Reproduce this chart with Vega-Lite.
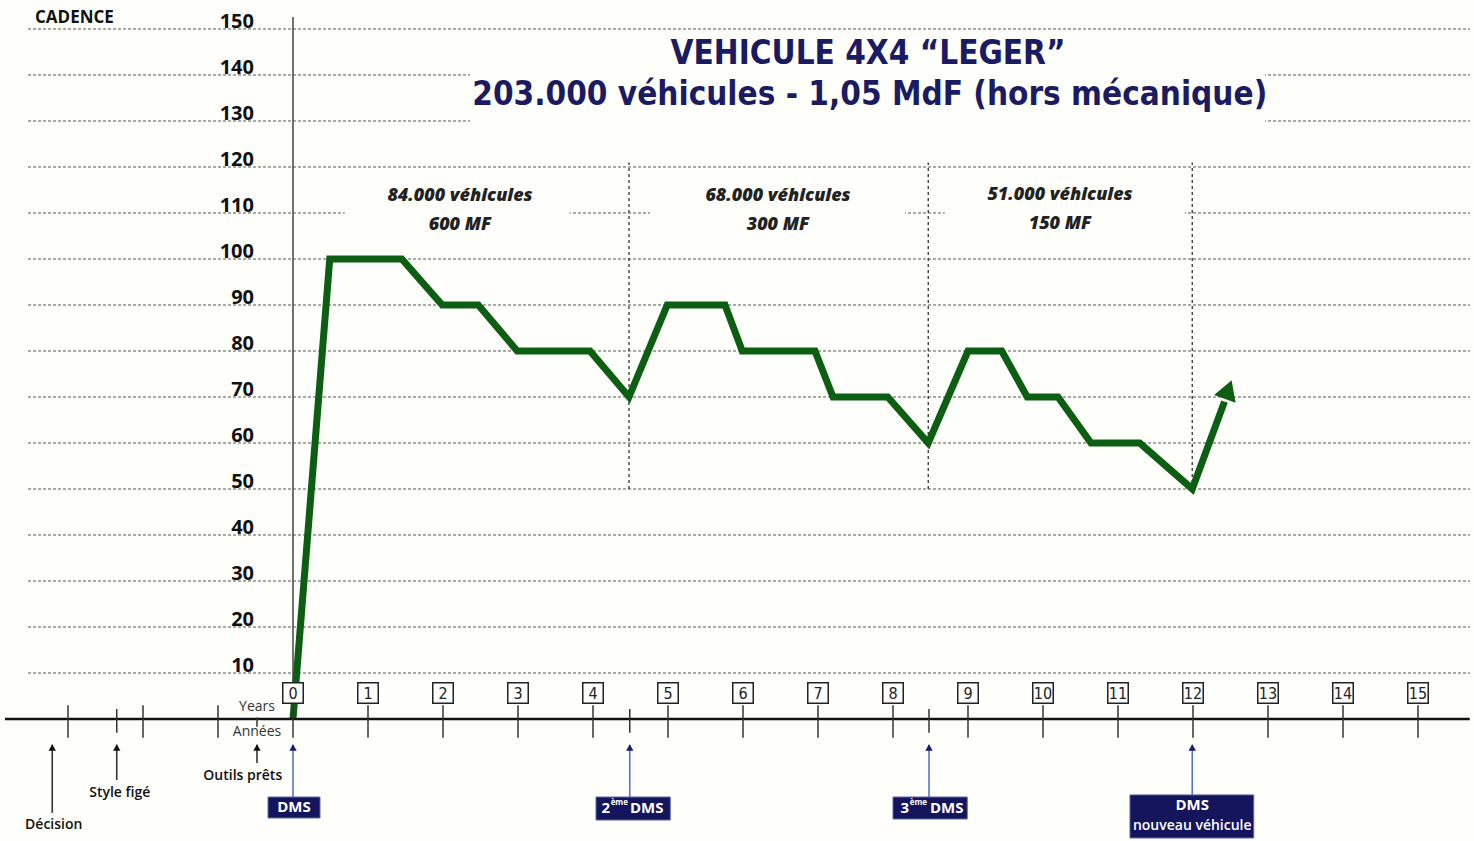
{
  "$schema": "https://vega.github.io/schema/vega-lite/v6.json",
  "autosize": "none",
  "padding": 0,
  "width": 1474,
  "height": 841,
  "background": "#fefefb",
  "config": {"view": {"stroke": null}},
  "layer": [
    {
      "data": {"values": [
        {"v": 10, "xa": -3.533, "xb": 15.693}, {"v": 20, "xa": -3.533, "xb": 15.693}, {"v": 30, "xa": -3.533, "xb": 15.693},
        {"v": 40, "xa": -3.533, "xb": 15.693}, {"v": 50, "xa": -3.533, "xb": 15.693}, {"v": 60, "xa": -3.533, "xb": 15.693},
        {"v": 70, "xa": -3.533, "xb": 15.693}, {"v": 80, "xa": -3.533, "xb": 15.693}, {"v": 90, "xa": -3.533, "xb": 15.693},
        {"v": 100, "xa": -3.533, "xb": 15.693}, {"v": 110, "xa": -3.533, "xb": 15.693}, {"v": 120, "xa": -3.533, "xb": 15.693},
        {"v": 130, "xa": -3.533, "xb": 15.693}, {"v": 140, "xa": -3.533, "xb": 15.693}, {"v": 150, "xa": -3.533, "xb": 15.693}
      ]},
      "mark": {"type": "rule", "color": "#555", "strokeWidth": 1, "strokeDash": [3, 2]},
      "encoding": {
        "x": {"field": "xa", "type": "quantitative", "scale": {"domain": [-3.9067, 15.7467], "nice": false, "zero": false}, "axis": null},
        "x2": {"field": "xb"},
        "y": {"field": "v", "type": "quantitative", "scale": {"domain": [-26.52, 156.3], "nice": false, "zero": false}, "axis": null}
      }
    },
    {
      "data": {"values": [
        {"x1": 2.36, "x2": 12.96, "y1": 125, "y2": 146},
        {"x1": 0.69, "x2": 3.69, "y1": 105, "y2": 116},
        {"x1": 4.76, "x2": 8.16, "y1": 105, "y2": 116},
        {"x1": 8.69, "x2": 11.89, "y1": 105, "y2": 116}
      ]},
      "mark": {"type": "rect", "color": "#fefefb"},
      "encoding": {
        "x": {"field": "x1", "type": "quantitative", "axis": null},
        "x2": {"field": "x2"},
        "y": {"field": "y1", "type": "quantitative", "axis": null},
        "y2": {"field": "y2"}
      }
    },
    {
      "data": {"values": [{"x": 4.48, "ya": 50, "yb": 121}, {"x": 8.47, "ya": 50, "yb": 121}, {"x": 11.99, "ya": 50, "yb": 121}]},
      "mark": {"type": "rule", "color": "#333", "strokeWidth": 1.3, "strokeDash": [3, 3]},
      "encoding": {
        "x": {"field": "x", "type": "quantitative", "axis": null},
        "y": {"field": "ya", "type": "quantitative", "axis": null},
        "y2": {"field": "yb"}
      }
    },
    {
      "data": {"values": [{"x": 0, "ya": 0, "yb": 152.6}]},
      "mark": {"type": "rule", "color": "#444", "strokeWidth": 1.5},
      "encoding": {
        "x": {"field": "x", "type": "quantitative", "axis": null},
        "y": {"field": "ya", "type": "quantitative", "axis": null},
        "y2": {"field": "yb"}
      }
    },
    {
      "data": {"values": [
        {"v": 10, "x": -0.52}, {"v": 20, "x": -0.52}, {"v": 30, "x": -0.52}, {"v": 40, "x": -0.52}, {"v": 50, "x": -0.52},
        {"v": 60, "x": -0.52}, {"v": 70, "x": -0.52}, {"v": 80, "x": -0.52}, {"v": 90, "x": -0.52}, {"v": 100, "x": -0.52},
        {"v": 110, "x": -0.52}, {"v": 120, "x": -0.52}, {"v": 130, "x": -0.52}, {"v": 140, "x": -0.52}, {"v": 150, "x": -0.52}
      ]},
      "mark": {"type": "text", "align": "right", "baseline": "alphabetic", "dy": -1, "font": "Open Sans", "fontWeight": "bold", "fontSize": 20, "color": "#111"},
      "encoding": {
        "x": {"field": "x", "type": "quantitative", "axis": null},
        "y": {"field": "v", "type": "quantitative", "axis": null},
        "text": {"field": "v", "type": "quantitative"}
      }
    },
    {
      "data": {"values": [{"t": "CADENCE", "x": -3.44, "y": 152.4}]},
      "mark": {"type": "text", "align": "left", "baseline": "middle", "font": "Open Sans", "fontWeight": "bold", "fontSize": 17, "color": "#111"},
      "encoding": {
        "x": {"field": "x", "type": "quantitative", "axis": null},
        "y": {"field": "y", "type": "quantitative", "axis": null},
        "text": {"field": "t", "type": "nominal"}
      }
    },
    {
      "data": {"values": [
        {"t": "VEHICULE 4X4 \u201cLEGER\u201d", "x": 7.667, "y": 144.6},
        {"t": "203.000 véhicules - 1,05 MdF (hors mécanique)", "x": 7.69, "y": 135.65}
      ]},
      "mark": {"type": "text", "align": "center", "baseline": "middle", "font": "Liberation Sans Narrow, DejaVu Sans Condensed, Roboto", "fontWeight": "bold", "fontSize": 33, "color": "#1b1b63"},
      "encoding": {
        "x": {"field": "x", "type": "quantitative", "axis": null},
        "y": {"field": "y", "type": "quantitative", "axis": null},
        "text": {"field": "t", "type": "nominal"}
      }
    },
    {
      "data": {"values": [
        {"t": "84.000 véhicules", "x": 2.227, "y": 113.7},
        {"t": "600 MF", "x": 2.227, "y": 107.4},
        {"t": "68.000 véhicules", "x": 6.467, "y": 113.7},
        {"t": "300 MF", "x": 6.467, "y": 107.4},
        {"t": "51.000 véhicules", "x": 10.227, "y": 113.9},
        {"t": "150 MF", "x": 10.227, "y": 107.6}
      ]},
      "mark": {"type": "text", "align": "center", "baseline": "middle", "font": "Open Sans", "fontWeight": 800, "fontStyle": "italic", "fontSize": 18, "color": "#222"},
      "encoding": {
        "x": {"field": "x", "type": "quantitative", "axis": null},
        "y": {"field": "y", "type": "quantitative", "axis": null},
        "text": {"field": "t", "type": "nominal"}
      }
    },
    {
      "data": {"values": [
        {"x": 0, "v": 0}, {"x": 0.49, "v": 100}, {"x": 1.45, "v": 100}, {"x": 1.99, "v": 90},
        {"x": 2.47, "v": 90}, {"x": 2.99, "v": 80}, {"x": 3.96, "v": 80}, {"x": 4.48, "v": 70},
        {"x": 4.99, "v": 90}, {"x": 5.76, "v": 90}, {"x": 5.99, "v": 80}, {"x": 6.96, "v": 80},
        {"x": 7.2, "v": 70}, {"x": 7.93, "v": 70}, {"x": 8.47, "v": 60}, {"x": 9.0, "v": 80},
        {"x": 9.45, "v": 80}, {"x": 9.79, "v": 70}, {"x": 10.2, "v": 70}, {"x": 10.64, "v": 60},
        {"x": 11.29, "v": 60}, {"x": 11.99, "v": 50}, {"x": 12.42, "v": 69}
      ]},
      "mark": {"type": "line", "color": "#0c5e12", "strokeWidth": 7, "strokeJoin": "miter", "strokeCap": "butt"},
      "encoding": {
        "x": {"field": "x", "type": "quantitative", "axis": null},
        "y": {"field": "v", "type": "quantitative", "axis": null}
      }
    },
    {
      "data": {"values": [{"x": 12.47, "v": 71.6}]},
      "mark": {"type": "point", "shape": "triangle-up", "filled": true, "color": "#0c5e12", "opacity": 1, "size": 520, "angle": 20},
      "encoding": {
        "x": {"field": "x", "type": "quantitative", "axis": null},
        "y": {"field": "v", "type": "quantitative", "axis": null}
      }
    },
    {
      "data": {"values": [{"x": -3.84, "x2": 15.69, "y": 0}]},
      "mark": {"type": "rule", "color": "#111", "strokeWidth": 2.5},
      "encoding": {
        "x": {"field": "x", "type": "quantitative", "axis": null},
        "x2": {"field": "x2"},
        "y": {"field": "y", "type": "quantitative", "axis": null}
      }
    },
    {
      "data": {"values": [
        {"x": -3, "ya": 3.0, "yb": -4.1}, {"x": -2, "ya": 3.0, "yb": -4.1}, {"x": -1, "ya": 3.0, "yb": -4.1},
        {"x": 0, "ya": 3.0, "yb": -4.1}, {"x": 1, "ya": 3.0, "yb": -4.1}, {"x": 2, "ya": 3.0, "yb": -4.1},
        {"x": 3, "ya": 3.0, "yb": -4.1}, {"x": 4, "ya": 3.0, "yb": -4.1}, {"x": 5, "ya": 3.0, "yb": -4.1},
        {"x": 6, "ya": 3.0, "yb": -4.1}, {"x": 7, "ya": 3.0, "yb": -4.1}, {"x": 8, "ya": 3.0, "yb": -4.1},
        {"x": 9, "ya": 3.0, "yb": -4.1}, {"x": 10, "ya": 3.0, "yb": -4.1}, {"x": 11, "ya": 3.0, "yb": -4.1},
        {"x": 12, "ya": 3.0, "yb": -4.1}, {"x": 13, "ya": 3.0, "yb": -4.1}, {"x": 14, "ya": 3.0, "yb": -4.1},
        {"x": 15, "ya": 3.0, "yb": -4.1},
        {"x": -2.35, "ya": 2.2, "yb": -3.0}, {"x": 4.49, "ya": 2.2, "yb": -3.0}, {"x": 8.48, "ya": 2.2, "yb": -3.0},
        {"x": -0.48, "ya": 0.3, "yb": -1.7}
      ]},
      "mark": {"type": "rule", "color": "#333", "strokeWidth": 1.5},
      "encoding": {
        "x": {"field": "x", "type": "quantitative", "axis": null},
        "y": {"field": "ya", "type": "quantitative", "axis": null},
        "y2": {"field": "yb"}
      }
    },
    {
      "data": {"values": [
        {"x": 0, "y": 5.65}, {"x": 1, "y": 5.65}, {"x": 2, "y": 5.65}, {"x": 3, "y": 5.65}, {"x": 4, "y": 5.65},
        {"x": 5, "y": 5.65}, {"x": 6, "y": 5.65}, {"x": 7, "y": 5.65}, {"x": 8, "y": 5.65}, {"x": 9, "y": 5.65},
        {"x": 10, "y": 5.65}, {"x": 11, "y": 5.65}, {"x": 12, "y": 5.65}, {"x": 13, "y": 5.65}, {"x": 14, "y": 5.65},
        {"x": 15, "y": 5.65}
      ]},
      "layer": [
        {
          "mark": {"type": "point", "shape": "square", "filled": true, "fill": "#ffffff", "stroke": "#222", "strokeWidth": 1.5, "opacity": 1, "size": 420},
          "encoding": {
            "x": {"field": "x", "type": "quantitative", "axis": null},
            "y": {"field": "y", "type": "quantitative", "axis": null}
          }
        },
        {
          "mark": {"type": "text", "align": "center", "baseline": "middle", "font": "Liberation Sans Narrow, DejaVu Sans Condensed, Roboto", "fontSize": 16, "color": "#222", "dy": 1},
          "encoding": {
            "x": {"field": "x", "type": "quantitative", "axis": null},
            "y": {"field": "y", "type": "quantitative", "axis": null},
            "text": {"field": "x", "type": "quantitative"}
          }
        }
      ]
    },
    {
      "data": {"values": [{"t": "Years", "x": -0.48, "y": 2.6}, {"t": "Années", "x": -0.48, "y": -2.83}]},
      "mark": {"type": "text", "align": "center", "baseline": "middle", "font": "Open Sans", "fontSize": 14, "color": "#333"},
      "encoding": {
        "x": {"field": "x", "type": "quantitative", "axis": null},
        "y": {"field": "y", "type": "quantitative", "axis": null},
        "text": {"field": "t", "type": "nominal"}
      }
    },
    {
      "data": {"values": [
        {"x": -3.21, "ya": -5.6, "yb": -20.4},
        {"x": -2.35, "ya": -5.6, "yb": -13.26},
        {"x": -0.48, "ya": -5.6, "yb": -9.57}
      ]},
      "mark": {"type": "rule", "strokeWidth": 1.6, "color": "#333333"},
      "encoding": {
        "x": {"field": "x", "type": "quantitative", "axis": null},
        "y": {"field": "ya", "type": "quantitative", "axis": null},
        "y2": {"field": "yb"}
      }
    },
    {
      "data": {"values": [
        {"x": 0.0, "ya": -5.6, "yb": -16.96},
        {"x": 4.49, "ya": -5.6, "yb": -16.96},
        {"x": 8.48, "ya": -5.6, "yb": -16.96},
        {"x": 11.99, "ya": -5.6, "yb": -16.5}
      ]},
      "mark": {"type": "rule", "strokeWidth": 1.6, "color": "#5577c0"},
      "encoding": {
        "x": {"field": "x", "type": "quantitative", "axis": null},
        "y": {"field": "ya", "type": "quantitative", "axis": null},
        "y2": {"field": "yb"}
      }
    },
    {
      "data": {"values": [{"x": -3.21, "y": -6.2}, {"x": -2.35, "y": -6.2}, {"x": -0.48, "y": -6.2}]},
      "mark": {"type": "point", "shape": "triangle-up", "filled": true, "opacity": 1, "size": 55, "color": "#111111"},
      "encoding": {
        "x": {"field": "x", "type": "quantitative", "axis": null},
        "y": {"field": "y", "type": "quantitative", "axis": null}
      }
    },
    {
      "data": {"values": [{"x": 0.0, "y": -6.2}, {"x": 4.49, "y": -6.2}, {"x": 8.48, "y": -6.2}, {"x": 11.99, "y": -6.2}]},
      "mark": {"type": "point", "shape": "triangle-up", "filled": true, "opacity": 1, "size": 55, "color": "#1a1a7a"},
      "encoding": {
        "x": {"field": "x", "type": "quantitative", "axis": null},
        "y": {"field": "y", "type": "quantitative", "axis": null}
      }
    },
    {
      "data": {"values": [
        {"t": "Décision", "x": -3.19, "y": -23.0},
        {"t": "Style figé", "x": -2.31, "y": -16.1},
        {"t": "Outils prêts", "x": -0.67, "y": -12.4}
      ]},
      "mark": {"type": "text", "align": "center", "baseline": "middle", "font": "Open Sans", "fontWeight": 600, "fontSize": 14, "color": "#111"},
      "encoding": {
        "x": {"field": "x", "type": "quantitative", "axis": null},
        "y": {"field": "y", "type": "quantitative", "axis": null},
        "text": {"field": "t", "type": "nominal"}
      }
    },
    {
      "data": {"values": [
        {"x1": -0.333, "x2": 0.36, "y1": -16.96, "y2": -21.52},
        {"x1": 4.04, "x2": 5.03, "y1": -16.96, "y2": -21.96},
        {"x1": 8.0, "x2": 8.99, "y1": -16.96, "y2": -21.74},
        {"x1": 11.16, "x2": 12.81, "y1": -16.5, "y2": -25.87}
      ]},
      "mark": {"type": "rect", "color": "#15155e", "stroke": "#5a6aa8", "strokeWidth": 1},
      "encoding": {
        "x": {"field": "x1", "type": "quantitative", "axis": null},
        "x2": {"field": "x2"},
        "y": {"field": "y1", "type": "quantitative", "axis": null},
        "y2": {"field": "y2"}
      }
    },
    {
      "data": {"values": [
        {"t": "DMS", "x": 0.013, "y": -19.2},
        {"t": "DMS", "x": 11.99, "y": -18.8}
      ]},
      "mark": {"type": "text", "align": "center", "baseline": "middle", "font": "Open Sans", "fontWeight": "bold", "fontSize": 15, "color": "#ffffff"},
      "encoding": {
        "x": {"field": "x", "type": "quantitative", "axis": null},
        "y": {"field": "y", "type": "quantitative", "axis": null},
        "text": {"field": "t", "type": "nominal"}
      }
    },
    {
      "data": {"values": [{"t": "nouveau véhicule", "x": 11.99, "y": -23.3}]},
      "mark": {"type": "text", "align": "center", "baseline": "middle", "font": "Open Sans", "fontWeight": 600, "fontSize": 14, "color": "#ffffff"},
      "encoding": {
        "x": {"field": "x", "type": "quantitative", "axis": null},
        "y": {"field": "y", "type": "quantitative", "axis": null},
        "text": {"field": "t", "type": "nominal"}
      }
    },
    {
      "data": {"values": [{"t": "2", "x": 4.227, "y": -19.4}, {"t": "3", "x": 8.213, "y": -19.4}]},
      "mark": {"type": "text", "align": "right", "baseline": "middle", "font": "Open Sans", "fontWeight": "bold", "fontSize": 15, "color": "#ffffff"},
      "encoding": {
        "x": {"field": "x", "type": "quantitative", "axis": null},
        "y": {"field": "y", "type": "quantitative", "axis": null},
        "text": {"field": "t", "type": "nominal"}
      }
    },
    {
      "data": {"values": [{"t": "ème", "x": 4.235, "y": -18.3}, {"t": "ème", "x": 8.222, "y": -18.3}]},
      "mark": {"type": "text", "align": "left", "baseline": "middle", "font": "Open Sans", "fontWeight": "bold", "fontSize": 8, "color": "#ffffff"},
      "encoding": {
        "x": {"field": "x", "type": "quantitative", "axis": null},
        "y": {"field": "y", "type": "quantitative", "axis": null},
        "text": {"field": "t", "type": "nominal"}
      }
    },
    {
      "data": {"values": [{"t": "DMS", "x": 4.493, "y": -19.4}, {"t": "DMS", "x": 8.493, "y": -19.4}]},
      "mark": {"type": "text", "align": "left", "baseline": "middle", "font": "Open Sans", "fontWeight": "bold", "fontSize": 15, "color": "#ffffff"},
      "encoding": {
        "x": {"field": "x", "type": "quantitative", "axis": null},
        "y": {"field": "y", "type": "quantitative", "axis": null},
        "text": {"field": "t", "type": "nominal"}
      }
    }
  ]
}
